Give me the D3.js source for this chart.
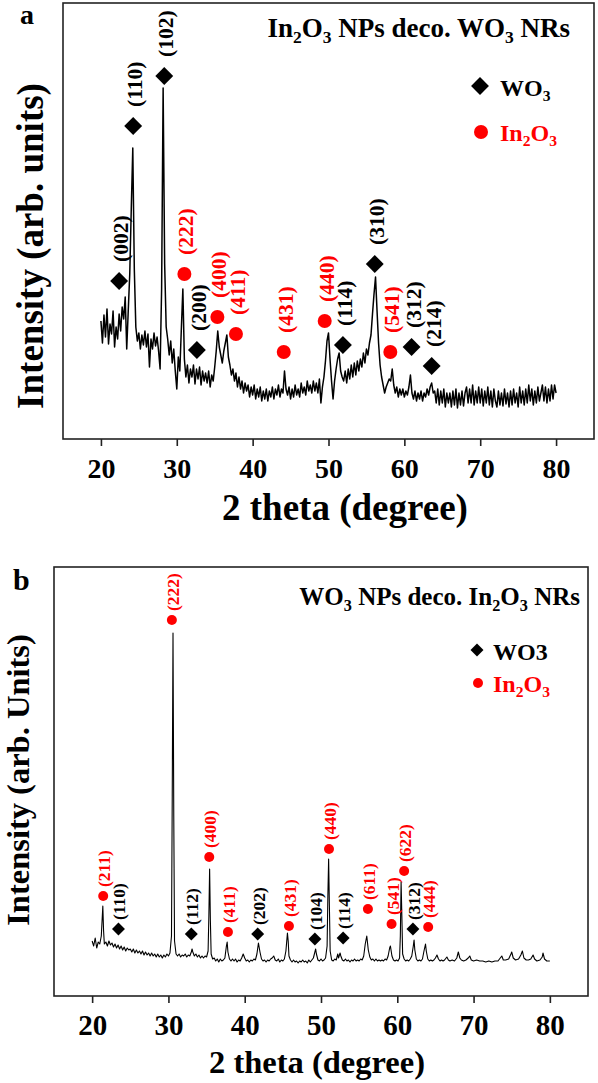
<!DOCTYPE html>
<html><head><meta charset="utf-8">
<script src="https://cdn.jsdelivr.net/npm/d3@7"></script>
<style>
body{margin:0;background:#fff}
svg{display:block}
</style>
</head><body>
<svg id="chart" width="598" height="1083"></svg>
<script>
// ---------------- DATA ----------------
// Panel (a): In2O3 NPs deco. WO3 NRs  — scan 20..80 deg, 0.2 deg step, intensity (a.u.)
const scanA_start = 20, scanA_step = 0.2;
const intensityA = [
118,96,124,102,130,95,115,105,128,92,
112,100,125,108,132,120,142,90,128,165,
230,291,170,112,98,106,90,104,94,108,
92,105,72,100,90,106,93,102,88,70,
150,351,175,112,100,84,98,76,90,68,
50,82,68,110,150,80,62,74,56,70,
62,74,55,70,60,72,54,68,58,66,
56,68,52,64,58,72,88,108,92,84,
76,88,96,104,82,74,64,70,58,66,
52,62,50,58,46,56,48,54,42,52,
44,54,40,50,42,52,38,48,40,50,
38,48,42,52,40,50,44,54,42,50,
46,68,50,44,52,40,50,42,54,44,
50,42,56,46,52,44,58,48,54,46,
58,48,56,46,60,36,52,62,78,98,
106,80,58,40,58,70,80,86,68,62,
58,68,56,70,60,74,62,76,64,78,
68,80,72,86,76,90,84,96,104,125,
145,162,128,96,74,62,54,46,52,56,
60,58,70,54,46,52,42,50,44,50,
42,48,44,52,64,46,40,48,38,46,
40,48,38,46,42,50,44,52,56,46,
48,36,50,34,48,36,50,32,46,36,
46,32,48,34,50,31,46,34,48,33,
46,52,36,50,36,54,34,48,36,52,
36,50,33,48,36,52,34,48,32,50,
38,32,48,34,46,33,50,35,46,32,
48,34,50,36,46,32,52,36,48,34,
50,36,54,38,50,34,48,36,52,38,
46,54,38,52,36,50,38,54,40,54,
46
];
const peaksA_hkl   = ["(002)","(110)","(102)","(222)","(200)","(400)","(411)","(431)","(440)","(114)","(310)","(541)","(312)","(214)"];
const peaksA_phase = ["WO3","WO3","WO3","In2O3","WO3","In2O3","In2O3","In2O3","In2O3","WO3","WO3","In2O3","WO3","WO3"];
const peaksA_angle = [22.4,24.25,28.35,31.0,32.65,35.35,37.8,44.1,49.5,51.9,56.1,58.15,60.95,63.6];
const peaksA_level = [158,313,363,165,89,122,105,87,118,94,175,87,92,73];

// Panel (b): WO3 NPs deco. In2O3 NRs — [2theta, intensity (a.u.)]
const scanB = [
[20.0,55],[20.2,50],[20.4,58],[20.6,48],[20.8,54],[21.0,52],[21.2,60],[21.3,75],[21.4,90],[21.5,65],[21.6,52],
[21.8,54],[22.0,50],[22.2,55],[22.4,51],[22.6,53],[22.8,49],[23.0,52],[23.2,48],[23.4,51],[23.6,47],[23.8,50],
[24.0,46],[24.2,49],[24.4,45],[24.6,48],[24.8,46],[25.0,47],[25.2,44],[25.4,47],[25.6,43],[25.8,46],[26.0,43],
[26.2,45],[26.4,42],[26.6,45],[26.8,41],[27.0,44],[27.2,41],[27.4,43],[27.6,40],[27.8,43],[28.0,40],[28.2,42],
[28.4,39],[28.6,42],[28.8,39],[29.0,41],[29.2,38],[29.4,41],[29.6,39],[29.8,42],[30.0,40],[30.2,43],[30.4,60],
[30.5,200],[30.6,363],[30.7,180],[30.8,55],[31.0,42],[31.2,40],[31.4,42],[31.6,39],[31.8,41],[32.0,40],[32.2,42],
[32.4,39],[32.6,41],[32.8,40],[33.0,44],[33.1,47],[33.2,44],[33.4,40],[33.6,42],[33.8,39],[34.0,41],[34.2,38],
[34.4,40],[34.6,38],[34.8,40],[35.0,39],[35.2,45],[35.3,80],[35.4,127],[35.5,75],[35.6,42],[35.8,37],[36.0,38],
[36.2,35],[36.4,37],[36.6,34],[36.8,37],[37.0,35],[37.2,36],[37.4,38],[37.6,50],[37.7,54],[37.8,44],[38.0,37],
[38.2,35],[38.4,37],[38.6,35],[38.8,37],[39.0,34],[39.2,36],[39.4,35],[39.6,38],[39.8,42],[40.0,38],[40.2,35],
[40.4,36],[40.6,34],[40.8,36],[41.0,35],[41.2,37],[41.4,36],[41.6,42],[41.8,53],[42.0,44],[42.2,37],[42.4,35],
[42.6,36],[42.8,34],[43.0,36],[43.2,35],[43.4,37],[43.6,38],[43.8,40],[44.0,36],[44.2,35],[44.4,37],[44.6,34],
[44.8,36],[45.0,35],[45.2,37],[45.4,45],[45.6,63],[45.7,55],[45.8,40],[46.0,36],[46.2,34],[46.4,36],[46.6,34],
[46.8,35],[47.0,33],[47.2,35],[47.4,34],[47.6,36],[47.8,34],[48.0,35],[48.2,33],[48.4,36],[48.6,34],[48.8,36],
[49.0,38],[49.2,44],[49.3,47],[49.4,42],[49.6,36],[49.8,35],[50.0,37],[50.2,35],[50.4,36],[50.6,38],[50.8,50],
[50.9,100],[51.0,137],[51.1,90],[51.2,45],[51.4,36],[51.6,35],[51.8,37],[52.0,36],[52.2,42],[52.3,38],[52.5,43],
[52.6,40],[52.8,36],[53.0,35],[53.2,37],[53.4,35],[53.6,36],[53.8,34],[54.0,36],[54.2,35],[54.4,37],[54.6,35],
[54.8,36],[55.0,35],[55.2,37],[55.4,36],[55.6,40],[55.8,52],[56.0,60],[56.2,46],[56.4,39],[56.6,36],[56.8,37],
[57.0,35],[57.2,37],[57.4,35],[57.6,36],[57.8,35],[58.0,36],[58.2,35],[58.4,37],[58.6,36],[58.8,40],[59.0,48],
[59.1,50],[59.3,40],[59.5,36],[59.7,35],[59.9,36],[60.1,35],[60.3,38],[60.4,60],[60.5,114],[60.6,80],[60.7,42],
[60.9,37],[61.1,35],[61.3,36],[61.5,35],[61.7,37],[61.9,40],[62.1,50],[62.2,56],[62.3,46],[62.5,37],[62.7,35],
[62.9,36],[63.1,35],[63.3,37],[63.5,45],[63.7,52],[63.8,45],[64.0,37],[64.2,35],[64.4,36],[64.6,35],[64.8,36],
[65.0,38],[65.2,41],[65.4,37],[65.6,35],[65.8,36],[66.0,35],[66.2,36],[66.5,39],[66.7,36],[66.9,35],[67.2,36],
[67.5,35],[67.8,38],[68.0,44],[68.2,38],[68.4,36],[68.7,35],[69.0,36],[69.3,38],[69.5,40],[69.7,36],[70.0,35],
[70.4,36],[70.8,35],[71.2,35],[71.6,34],[72.0,35],[72.4,34],[72.8,35],[73.2,35],[73.5,38],[73.7,40],[73.9,36],
[74.2,36],[74.6,37],[74.9,42],[75.0,44],[75.2,38],[75.5,36],[75.9,37],[76.2,41],[76.4,45],[76.6,38],[76.9,36],
[77.2,36],[77.5,37],[77.8,41],[78.0,37],[78.3,35],[78.7,36],[79.0,39],[79.1,43],[79.3,37],[79.6,35],[80.0,35]
];
const peaksB_hkl   = ["(211)","(110)","(222)","(112)","(400)","(411)","(202)","(431)","(104)","(440)","(114)","(611)","(541)","(622)","(312)","(444)"];
const peaksB_phase = ["In2O3","WO3","In2O3","WO3","In2O3","In2O3","WO3","In2O3","WO3","In2O3","WO3","In2O3","In2O3","In2O3","WO3","In2O3"];
const peaksB_angle = [21.45,23.45,30.45,33.0,35.35,37.8,41.7,45.8,49.2,51.05,52.9,56.15,59.25,60.9,62.05,64.05];
const peaksB_level = [100,67,376,62,139,64,62,70,57,147,58,87,72,125,67,69];

const xTicks = [20,30,40,50,60,70,80];

// ---------------- DRAW ----------------
const FONT = '"Liberation Serif","Times New Roman",serif';
const RED = "#ff0000";
const svg = d3.select("#chart");

function txt(g, x, y, size, color, parts, anchor) {
  const t = g.append("text").attr("x", x).attr("y", y)
    .attr("font-family", FONT).attr("font-weight", "bold")
    .attr("font-size", size).attr("fill", color)
    .attr("text-anchor", anchor || "start");
  let prevSub = false;
  parts.forEach(([s, sub]) => {
    const ts = t.append("tspan").text(s);
    if (sub) { ts.attr("font-size", size * 0.65); if (!prevSub) ts.attr("dy", size * 0.22); }
    else if (prevSub) ts.attr("dy", -size * 0.22);
    prevSub = sub;
  });
  return t;
}

function panel(o) {
  const g = svg.append("g");
  const x = o.x, y = o.y;
  const [x0, x1] = x.range(), [yb, yt] = y.range();
  g.append("rect").attr("x", x0).attr("y", yt).attr("width", x1 - x0).attr("height", yb - yt)
    .attr("fill", "none").attr("stroke", "#222").attr("stroke-width", 1.6);

  const ax = g.append("g").attr("transform", `translate(0,${yb})`)
    .call(d3.axisBottom(x).tickValues(xTicks).tickSize(7).tickSizeOuter(0).tickPadding(o.tickPad));
  ax.select(".domain").remove();
  ax.selectAll(".tick line").attr("stroke", "#222").attr("stroke-width", 1.6);
  ax.selectAll(".tick text").attr("font-family", FONT).attr("font-weight", "bold")
    .attr("font-size", o.tickFont).attr("fill", "#000");

  g.append("path").datum(o.scan)
    .attr("fill", "none").attr("stroke", "#000").attr("stroke-width", o.lineW)
    .attr("stroke-linejoin", "round")
    .attr("d", d3.line().x(d => x(d[0])).y(d => y(d[1])));

  o.hkl.forEach((h, i) => {
    const px = x(o.angle[i]), py = y(o.level[i]);
    const isW = o.phase[i] === "WO3";
    if (isW) {
      g.append("path").attr("d", d3.symbol().type(d3.symbolSquare).size(o.sqSize)())
        .attr("transform", `translate(${px},${py}) rotate(45)`).attr("fill", "#000");
    } else {
      g.append("circle").attr("cx", px).attr("cy", py).attr("r", o.cr).attr("fill", RED);
    }
    g.append("text").text(h)
      .attr("transform", `translate(${px + o.lblDx},${py - o.lblGap}) rotate(-90)`)
      .attr("font-family", FONT).attr("font-weight", "bold").attr("font-size", o.lblFont)
      .attr("dominant-baseline", "central")
      .attr("fill", isW ? "#000" : RED);
  });

  g.append("text").text("2 theta (degree)").attr("x", o.xtX).attr("y", o.xtY)
    .attr("text-anchor", "middle").attr("font-family", FONT).attr("font-weight", "bold")
    .attr("font-size", o.titleFont).attr("fill", "#000");
  g.append("text").text(o.ytitle)
    .attr("transform", `translate(${o.ytX},${o.ytY}) rotate(-90)`)
    .attr("text-anchor", "middle").attr("font-family", FONT).attr("font-weight", "bold")
    .attr("font-size", o.titleFont).attr("fill", "#000");
  g.append("text").text(o.letter).attr("x", o.letX).attr("y", o.letY)
    .attr("font-family", FONT).attr("font-weight", "bold").attr("font-size", o.letFont).attr("fill", "#000");
  txt(g, o.hdX, o.hdY, o.hdFont, "#000", o.header, "end");
  g.append("path").attr("d", d3.symbol().type(d3.symbolSquare).size(o.legSq)())
    .attr("transform", `translate(${o.legX},${o.legY1}) rotate(45)`).attr("fill", "#000");
  txt(g, o.legTX, o.legY1 + o.legFont * 0.4, o.legFont, "#000", o.legW);
  g.append("circle").attr("cx", o.legX + 1).attr("cy", o.legY2).attr("r", o.legR).attr("fill", RED);
  txt(g, o.legTX, o.legY2 + o.legFont * 0.36, o.legFont, RED, [["In",false],["2",true],["O",false],["3",true]]);
}

const scanA = intensityA.map((v, i) => [scanA_start + i * scanA_step, v]);

panel({
  x: d3.scaleLinear().domain([15, 85]).range([63, 594]),
  y: d3.scaleLinear().domain([0, 436]).range([439, 3]),
  scan: scanA, lineW: 1.5,
  hkl: peaksA_hkl, phase: peaksA_phase, angle: peaksA_angle, level: peaksA_level,
  sqSize: 160, cr: 7, lblGap: 19, lblDx: 2, lblFont: 21.5,
  tickPad: 12, tickFont: 28,
  titleFont: 37, xtX: 345, xtY: 520, ytX: 43, ytY: 246, ytitle: "Intensity (arb. units)",
  letter: "a", letX: 20, letY: 24, letFont: 28,
  hdX: 570, hdY: 37, hdFont: 27,
  header: [["In",false],["2",true],["O",false],["3",true],[" NPs deco. WO",false],["3",true],[" NRs",false]],
  legX: 480, legY1: 86, legY2: 132, legTX: 500, legFont: 24, legSq: 160, legR: 7,
  legW: [["WO",false],["3",true]]
});

panel({
  x: d3.scaleLinear().domain([15, 85]).range([54, 588]),
  y: d3.scaleLinear().domain([0, 429]).range([996, 567]),
  scan: scanB, lineW: 1.1,
  hkl: peaksB_hkl, phase: peaksB_phase, angle: peaksB_angle, level: peaksB_level,
  sqSize: 84, cr: 5, lblGap: 9, lblDx: 1, lblFont: 17.5,
  tickPad: 11, tickFont: 29,
  titleFont: 32.5, xtX: 317, xtY: 1073, ytX: 29, ytY: 780, ytitle: "Intensity (arb. Units)",
  letter: "b", letX: 13, letY: 590, letFont: 30,
  hdX: 580, hdY: 605, hdFont: 25,
  header: [["WO",false],["3",true],[" NPs deco. In",false],["2",true],["O",false],["3",true],[" NRs",false]],
  legX: 477, legY1: 650, legY2: 683, legTX: 493, legFont: 24, legSq: 84, legR: 5,
  legW: [["WO3",false]]
});
</script>
</body></html>
